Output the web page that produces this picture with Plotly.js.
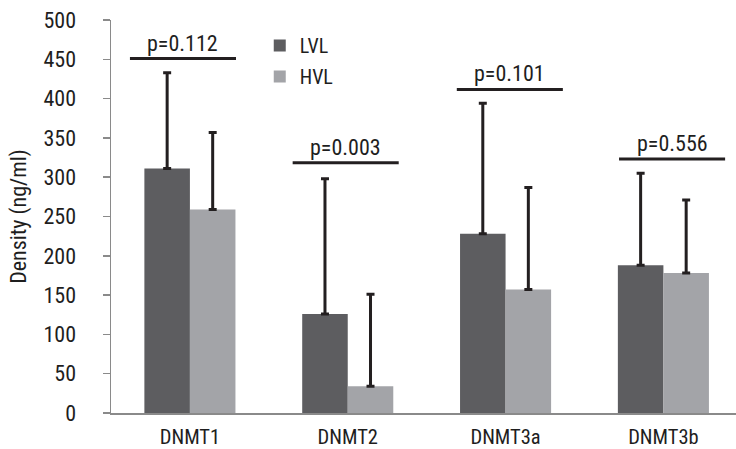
<!DOCTYPE html>
<html>
<head>
<meta charset="utf-8">
<script src="https://cdn.plot.ly/plotly-3.0.1.min.js"></script>
<style>
  html, body { margin: 0; padding: 0; background: #ffffff; }
  #chart { width: 736px; height: 449px; }
</style>
</head>
<body>
<div id="chart"></div>
<script>
// ---- data ----
const categories = ['DNMT1', 'DNMT2', 'DNMT3a', 'DNMT3b'];
const lvlValues = [311, 126, 228, 188];
const lvlUpper  = [433, 298, 394, 305];   // top of error bar
const hvlValues = [259, 34, 157, 178];
const hvlUpper  = [357, 151, 287, 271];   // top of error bar
const pLabels   = ['p=0.112', 'p=0.003', 'p=0.101', 'p=0.556'];
const pLevels   = [451, 318.5, 411.7, 323];
const yTicks    = [0, 50, 100, 150, 200, 250, 300, 350, 400, 450, 500];

// ---- styling ----
const cond = 'Roboto Condensed, Open Sans Condensed, DejaVu Sans Condensed, sans-serif';
const textColor = '#1e1e1e';
const axisGrey = '#8a8a8a';
const errColor = '#231f20';
const pOffsets = [-0.38, -0.349, -0.309, -0.281]; // left end of bracket relative to category
const pWidth = 0.672;

const idx = categories.map((c, i) => i);
const lvlErr = lvlUpper.map((u, i) => u - lvlValues[i]);
const hvlErr = hvlUpper.map((u, i) => u - hvlValues[i]);
const zeros = categories.map(() => 0);

const errStyle = {type: 'data', symmetric: false, thickness: 3, width: 4, color: errColor};

const traces = [
  {
    type: 'bar', name: 'LVL', x: idx, y: lvlValues,
    marker: {color: '#5d5d60'}, legendgroup: 'a',
    error_y: Object.assign({array: lvlErr, arrayminus: zeros}, errStyle)
  },
  {
    type: 'bar', name: 'HVL', x: idx, y: hvlValues,
    marker: {color: '#a3a4a8'}, legendgroup: 'b',
    error_y: Object.assign({array: hvlErr, arrayminus: zeros}, errStyle)
  }
];

const shapes = pLevels.map((lv, i) => ({
  type: 'line', xref: 'x', yref: 'y',
  x0: idx[i] + pOffsets[i], x1: idx[i] + pOffsets[i] + pWidth,
  y0: lv, y1: lv,
  line: {color: errColor, width: 3}
}));

const annotations = pLevels.map((lv, i) => ({
  xref: 'x', yref: 'y',
  x: idx[i] + pOffsets[i] + pWidth / 2, y: lv,
  text: pLabels[i], showarrow: false,
  xanchor: 'center', yanchor: 'bottom', yshift: 1,
  font: {family: cond, size: 22, color: textColor}
}));

const layout = {
  width: 736, height: 449,
  margin: {l: 111, r: 0, t: 20, b: 36, pad: 0},
  paper_bgcolor: '#ffffff', plot_bgcolor: '#ffffff',
  barmode: 'group', bargap: 0.423, bargroupgap: 0,
  font: {family: cond, size: 20, color: textColor},
  showlegend: true,
  legend: {
    x: 0.238, y: 0.985, xanchor: 'left', yanchor: 'top',
    bgcolor: 'rgba(0,0,0,0)', borderwidth: 0,
    traceorder: 'grouped', tracegroupgap: 2,
    font: {family: cond, size: 20, color: textColor}
  },
  xaxis: {
    range: [-0.5, 3.46], tickvals: idx, ticktext: categories,
    showgrid: false, zeroline: false,
    showline: true, linecolor: axisGrey, linewidth: 1.5,
    ticks: '', ticklabelstandoff: 5,
    tickfont: {family: cond, size: 20.5, color: textColor},
    fixedrange: true
  },
  yaxis: {
    range: [0, 500], tickvals: yTicks,
    showgrid: false, zeroline: false,
    showline: true, linecolor: axisGrey, linewidth: 1.5,
    ticks: 'outside', ticklen: 7, tickcolor: axisGrey, tickwidth: 1.5,
    ticklabelstandoff: 22,
    tickfont: {family: cond, size: 22, color: textColor},
    title: {text: 'Density (ng/ml)', standoff: 11,
            font: {family: cond, size: 22, color: textColor}},
    automargin: false,
    fixedrange: true
  },
  shapes: shapes,
  annotations: annotations
};

Plotly.newPlot('chart', traces, layout, {displayModeBar: false, staticPlot: true});
</script>
</body>
</html>
